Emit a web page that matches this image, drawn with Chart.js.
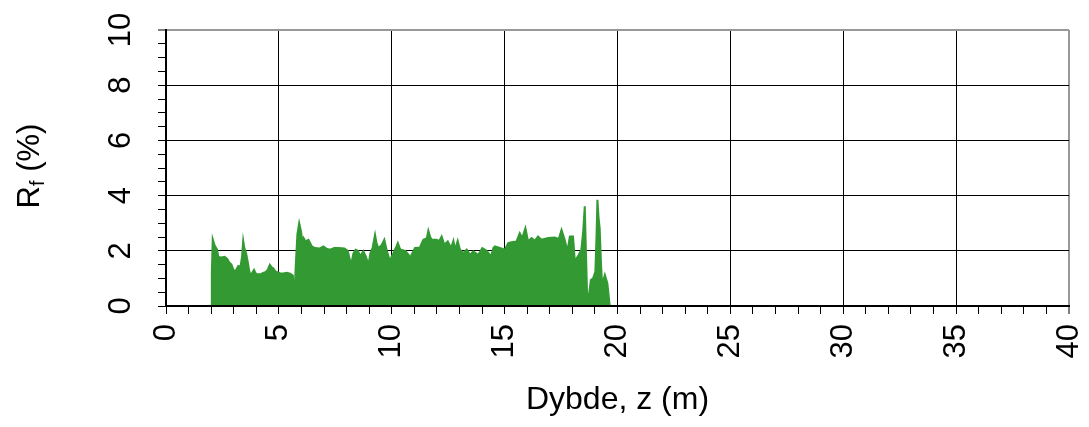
<!DOCTYPE html>
<html>
<head>
<meta charset="utf-8">
<script src="https://cdn.jsdelivr.net/npm/chart.js@4.4.1/dist/chart.umd.min.js"></script>
<style>
  html, body { margin: 0; padding: 0; background: #fff; }
  #wrap { width: 1089px; height: 427px; }
</style>
</head>
<body>
<div id="wrap"><canvas id="rfChart"></canvas></div>
<script>
const depth = [
  2.00, 2.03, 2.07, 2.15, 2.26, 2.32, 2.45, 2.60, 2.72, 2.80, 2.90, 3.00, 3.10, 3.20, 3.30,
  3.37, 3.42, 3.47, 3.55, 3.62, 3.68, 3.73, 3.82, 3.90, 3.97, 4.05, 4.20, 4.30, 4.40, 4.50,
  4.60, 4.68, 4.75, 4.85, 4.92, 5.05, 5.20, 5.35, 5.50, 5.62, 5.68, 5.75, 5.82, 5.90, 5.98,
  6.05, 6.10, 6.18, 6.31, 6.46, 6.60, 6.80, 6.97, 7.10, 7.27, 7.45, 7.64, 7.90, 8.05, 8.20,
  8.30, 8.40, 8.50, 8.60, 8.74, 8.85, 8.97, 9.05, 9.15, 9.26, 9.32, 9.40, 9.55, 9.67, 9.78,
  9.92, 10.00, 10.07, 10.18, 10.27, 10.35, 10.40, 10.60, 10.75, 10.81, 10.90, 11.03, 11.25, 11.40, 11.55,
  11.62, 11.70, 11.77, 11.99, 12.10, 12.21, 12.33, 12.48, 12.63, 12.73, 12.80, 12.92, 13.02, 13.17, 13.32,
  13.47, 13.61, 13.83, 14.01, 14.20, 14.40, 14.50, 14.57, 14.79, 15.01, 15.16, 15.30, 15.53, 15.67, 15.78,
  15.92, 16.04, 16.19, 16.34, 16.48, 16.63, 16.93, 17.22, 17.40, 17.52, 17.66, 17.78, 17.89, 18.03, 18.11,
  18.28, 18.40, 18.48, 18.55, 18.60, 18.65, 18.70, 18.82, 18.92, 19.02, 19.07, 19.11, 19.16, 19.21, 19.27,
  19.32, 19.44, 19.55, 19.65, 19.70
];
const rf = [
  0.00, 1.20, 2.42, 2.20, 2.04, 1.78, 1.76, 1.78, 1.70, 1.58, 1.50, 1.27, 1.30, 1.45, 1.42,
  1.80, 2.36, 2.10, 1.90, 1.60, 1.30, 1.13, 1.20, 1.31, 1.18, 1.15, 1.15, 1.20, 1.22, 1.30,
  1.49, 1.40, 1.37, 1.25, 1.22, 1.19, 1.18, 1.20, 1.17, 1.10, 0.20, 1.50, 2.60, 3.00, 2.70,
  2.30, 2.46, 2.34, 2.40, 2.16, 2.10, 2.08, 2.16, 2.08, 2.04, 2.10, 2.10, 2.08, 2.00, 1.49,
  1.90, 2.04, 2.00, 1.80, 1.98, 1.80, 1.49, 1.90, 2.10, 2.58, 2.30, 2.10, 2.20, 2.40, 2.00,
  1.62, 1.80, 1.91, 2.10, 2.28, 2.10, 2.04, 2.00, 1.85, 1.73, 1.90, 2.10, 2.12, 2.40, 2.45,
  2.73, 2.50, 2.40, 2.40, 2.35, 2.52, 2.22, 2.34, 2.10, 2.36, 2.04, 2.36, 2.04, 1.91, 2.04,
  1.85, 1.98, 1.85, 2.10, 2.00, 1.80, 2.10, 2.16, 2.10, 2.04, 2.28, 2.31, 2.34, 2.64, 2.46,
  2.82, 2.34, 2.46, 2.36, 2.52, 2.40, 2.46, 2.48, 2.43, 2.76, 2.40, 1.98, 2.52, 2.52, 1.62,
  1.85, 2.04, 2.70, 3.61, 2.00, 0.50, 0.15, 0.94, 1.00, 1.25, 2.50, 3.85, 3.20, 2.82, 1.50,
  0.76, 1.13, 0.83, 0.04, 0.00
];

const xMajorTicks = [0, 5, 10, 15, 20, 25, 30, 35, 40];
const yMajorTicks = [0, 2, 4, 6, 8, 10];
const xAxisTitle = "Dybde, z (m)";

const FONT = "'Liberation Sans', Arial, Helvetica, sans-serif";
const GREEN = "#339933";

// y tick labels and the Rf title are drawn rotated, reading bottom to top
const rotatedYLabels = {
  id: "rotatedYLabels",
  afterDraw(chart) {
    const { ctx } = chart;
    const yScale = chart.scales.y;
    const area = chart.chartArea;

    ctx.save();
    ctx.fillStyle = "#000";
    ctx.font = `31px ${FONT}`;
    ctx.textAlign = "center";
    ctx.textBaseline = "middle";
    yMajorTicks.forEach(v => {
      const py = yScale.getPixelForValue(v);
      ctx.save();
      ctx.translate(121, py);
      ctx.rotate(-Math.PI / 2);
      ctx.fillText(String(v), 0, 0);
      ctx.restore();
    });

    // R with subscript f, then (%)
    const cy = (area.top + area.bottom) / 2 - 2;
    ctx.translate(30, cy);
    ctx.rotate(-Math.PI / 2);
    ctx.textAlign = "left";
    ctx.textBaseline = "middle";
    const big = `31px ${FONT}`;
    const small = `20px ${FONT}`;
    ctx.font = big;
    const wR = ctx.measureText("R").width;
    const wRest = ctx.measureText(" (%)").width;
    ctx.font = small;
    const wF = ctx.measureText("f").width;
    let x = -(wR + wF + wRest) / 2;
    ctx.font = big;
    ctx.fillText("R", x, 0);
    x += wR;
    ctx.font = small;
    ctx.fillText("f", x, 8);
    x += wF;
    ctx.font = big;
    ctx.fillText(" (%)", x, 0);
    ctx.restore();
  }
};

new Chart(document.getElementById("rfChart"), {
  type: "line",
  data: {
    datasets: [{
      data: depth.map((z, i) => ({ x: z, y: rf[i] })),
      borderColor: GREEN,
      backgroundColor: GREEN,
      borderWidth: 2,
      pointRadius: 0,
      tension: 0,
      fill: "origin"
    }]
  },
  plugins: [rotatedYLabels],
  options: {
    responsive: true,
    maintainAspectRatio: false,
    animation: false,
    devicePixelRatio: 1,
    layout: { padding: { top: 30, right: 20, left: 0, bottom: 0 } },
    plugins: { legend: { display: false }, tooltip: { enabled: false } },
    scales: {
      x: {
        type: "linear",
        min: 0,
        max: 40,
        ticks: {
          stepSize: 1,
          autoSkip: false,
          minRotation: 90,
          maxRotation: 90,
          padding: 10,
          color: "#000",
          font: { family: FONT, size: 31 },
          callback: v => xMajorTicks.includes(v) ? String(v) : ""
        },
        grid: {
          color: c => {
            if (!c.tick || !xMajorTicks.includes(c.tick.value)) return "rgba(0,0,0,0)";
            return c.tick.value === 40 ? "#999" : "#000";
          },
          lineWidth: c => (c.tick && c.tick.value === 40 ? 2 : 1),
          tickColor: "#000",
          tickWidth: 1,
          tickLength: 8
        },
        border: { color: "#000", width: 2, z: 1 },
        title: {
          display: true,
          text: xAxisTitle,
          color: "#000",
          font: { family: FONT, size: 32 },
          padding: { top: 0, bottom: 8 }
        },
        afterFit(scale) {
          scale.height = 121;
          scale.paddingLeft = 0;
          scale.paddingRight = 0;
        }
      },
      y: {
        min: 0,
        max: 10,
        ticks: { stepSize: 0.5, display: false },
        grid: {
          color: c => {
            if (!c.tick || !yMajorTicks.includes(c.tick.value)) return "rgba(0,0,0,0)";
            return c.tick.value === 10 ? "#999" : "#000";
          },
          lineWidth: c => (c.tick && c.tick.value === 10 ? 2 : 1),
          tickColor: "#000",
          tickWidth: 1,
          tickLength: 8
        },
        border: { color: "#000", width: 2, z: 1 },
        afterFit(scale) {
          scale.width = 166;
          scale.paddingTop = 0;
          scale.paddingBottom = 0;
        }
      }
    }
  }
});
</script>
</body>
</html>
